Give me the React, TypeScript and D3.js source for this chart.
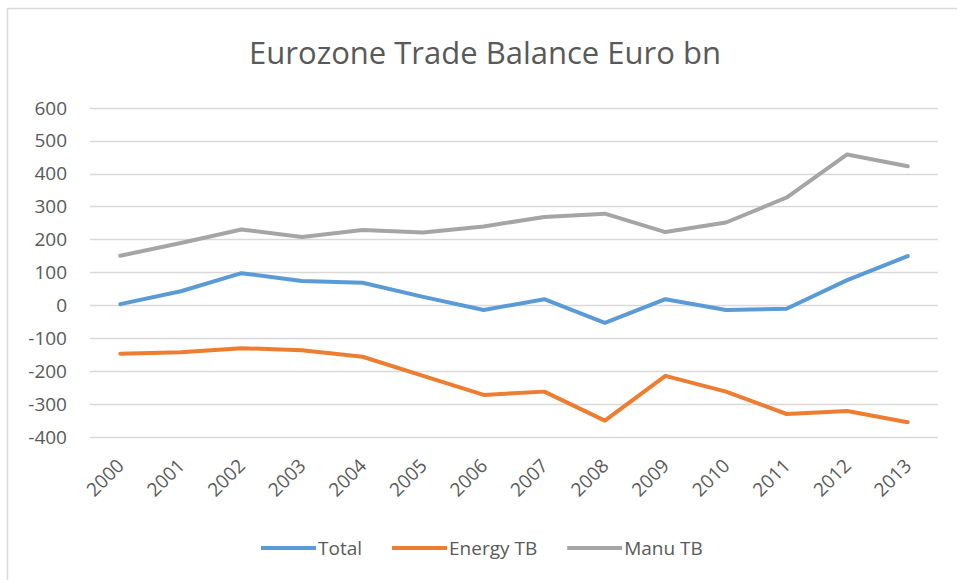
import React, { useEffect, useRef } from "react";
import * as d3 from "d3";

const years = ["2000","2001","2002","2003","2004","2005","2006","2007","2008","2009","2010","2011","2012","2013"];
const totalTB = [3, 42, 97, 73, 68, 25, -15, 18, -54, 18, -15, -11, 76, 149];
const energyTB = [-148, -143, -131, -137, -157, -215, -273, -263, -351, -215, -263, -331, -322, -356];
const manuTB = [150, 189, 230, 207, 228, 221, 239, 268, 278, 222, 251, 327, 458, 422];
const yTicks = [-400, -300, -200, -100, 0, 100, 200, 300, 400, 500, 600];
const seriesNames = ["Total", "Energy TB", "Manu TB"];
const seriesColors = ["#5B9BD5", "#ED7D31", "#A5A5A5"];
const title = "Eurozone Trade Balance Euro bn";

const W = 957;
const H = 580;
const FONT = "'Open Sans', 'Noto Sans', sans-serif";

export default function App() {
  const ref = useRef<SVGSVGElement>(null);

  useEffect(() => {
    const svg = d3.select(ref.current);
    svg.selectAll("*").remove();

    // outer border
    svg.append("rect")
      .attr("x", 7.5).attr("y", 8.5)
      .attr("width", W + 10).attr("height", H + 10)
      .attr("fill", "#fff").attr("stroke", "#D9D9D9").attr("stroke-width", 1.5);

    const x = d3.scaleBand<string>().domain(years).range([90, 938]);
    const cx = (d: string) => (x(d) as number) + x.bandwidth() / 2;
    const y = d3.scaleLinear().domain([-400, 600]).range([436.7, 107.7]);

    // title
    svg.append("text")
      .attr("x", 485).attr("y", 64)
      .attr("text-anchor", "middle")
      .attr("font-family", FONT).attr("font-size", 31)
      .attr("fill", "#595959")
      .text(title);

    // gridlines
    svg.append("g").selectAll("line").data(yTicks).join("line")
      .attr("x1", 90).attr("x2", 938)
      .attr("y1", d => Math.round(y(d)) + 0.5).attr("y2", d => Math.round(y(d)) + 0.5)
      .attr("stroke", "#D9D9D9").attr("stroke-width", 1.3);

    // y labels
    svg.append("g").selectAll("text").data(yTicks).join("text")
      .attr("x", 67).attr("y", d => y(d))
      .attr("dy", "0.36em")
      .attr("text-anchor", "end")
      .attr("font-family", FONT).attr("font-size", 19)
      .attr("fill", "#595959")
      .text(d => String(d));

    // x labels
    svg.append("g").selectAll("text").data(years).join("text")
      .attr("transform", d => `translate(${cx(d) + 5},${467}) rotate(-45)`)
      .attr("text-anchor", "end")
      .attr("font-family", FONT).attr("font-size", 19)
      .attr("fill", "#595959")
      .text(d => d);

    const allSeries = [totalTB, energyTB, manuTB];
    const line = d3.line<number>()
      .x((_, i) => cx(years[i]))
      .y(v => y(v));

    allSeries.forEach((vals, si) => {
      svg.append("path")
        .datum(vals)
        .attr("d", line)
        .attr("fill", "none")
        .attr("stroke", seriesColors[si])
        .attr("stroke-width", 4)
        .attr("stroke-linejoin", "round")
        .attr("stroke-linecap", "round");
    });

    // legend
    const lg = svg.append("g");
    const ly = 548;
    let lx = 261;
    seriesNames.forEach((name, i) => {
      lg.append("line")
        .attr("x1", lx).attr("x2", lx + 55)
        .attr("y1", ly).attr("y2", ly)
        .attr("stroke", seriesColors[i]).attr("stroke-width", 4);
      const t = lg.append("text")
        .attr("x", lx + 57).attr("y", ly)
        .attr("dy", "0.36em")
        .attr("font-family", FONT).attr("font-size", 19)
        .attr("fill", "#595959")
        .text(name);
      const w = (t.node() as SVGTextElement).getComputedTextLength();
      lx = lx + 57 + w + 30;
    });
  }, []);

  return (
    <svg
      ref={ref}
      width={W}
      height={H}
      style={{ position: "absolute", left: 0, top: 0, background: "#fff" }}
    />
  );
}
